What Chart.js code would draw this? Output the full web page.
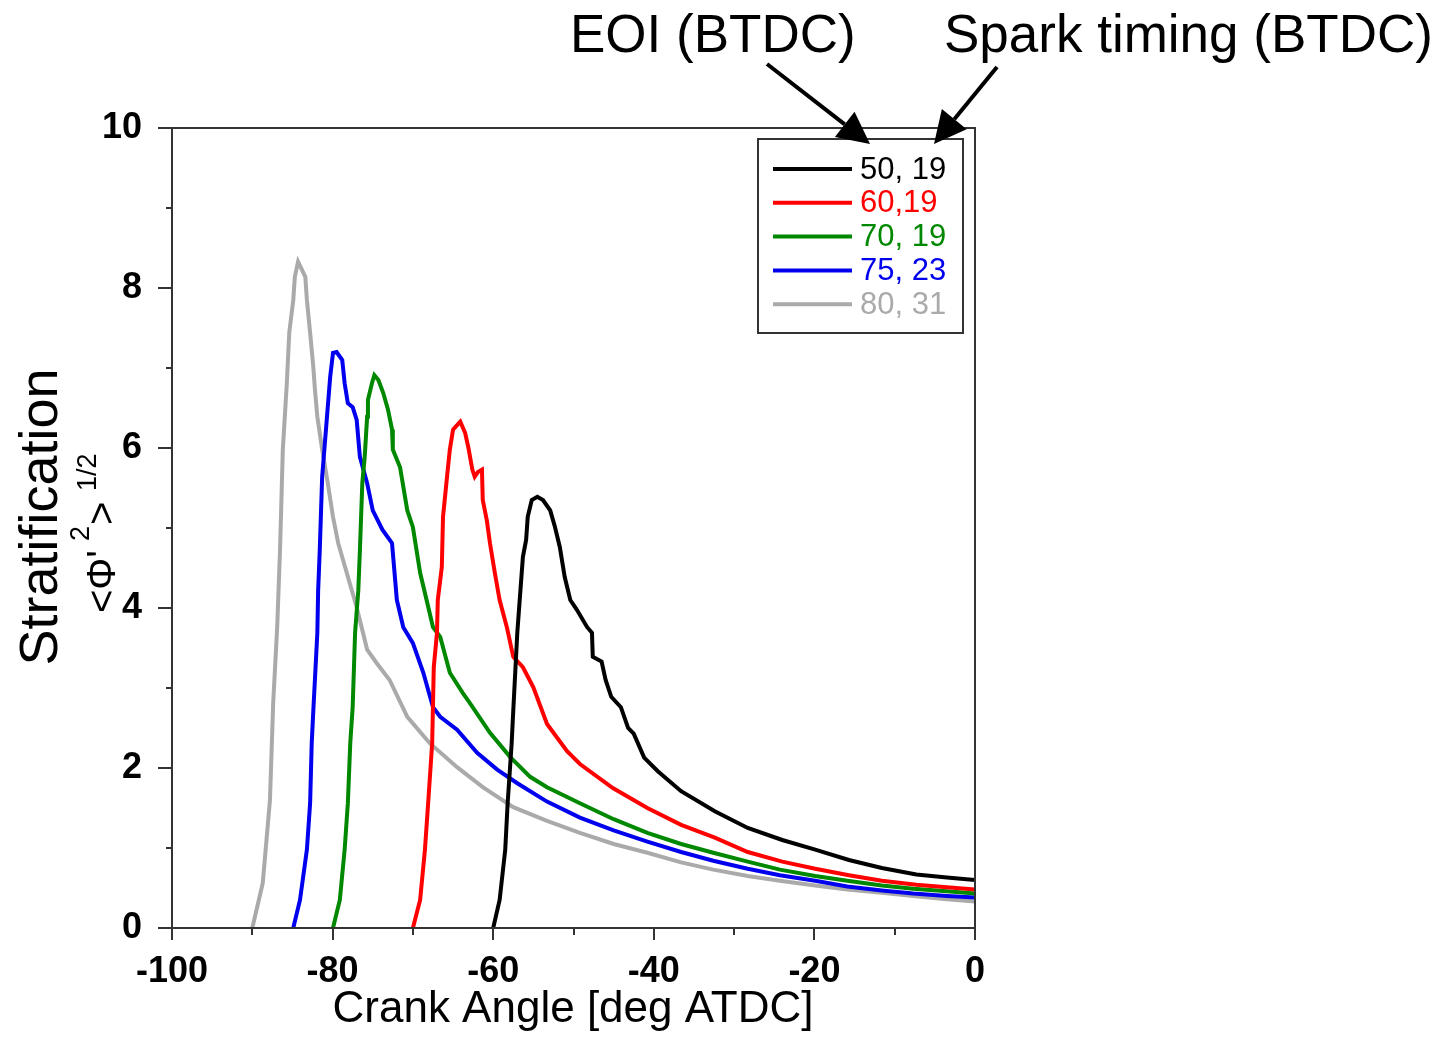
<!DOCTYPE html>
<html>
<head>
<meta charset="utf-8">
<script src="https://cdn.jsdelivr.net/npm/chart.js"></script>
<style>
  body { margin: 0; background: #fff; }
  #wrap { width: 1451px; height: 1037px; position: relative; }
</style>
</head>
<body>
<div id="wrap"><canvas id="strat"></canvas></div>
<script>
// Stratification vs crank angle
const seriesLabels = ['50, 19', '60,19', '70, 19', '75, 23', '80, 31'];
const seriesColors = ['#000000', '#ff0000', '#008800', '#0000ee', '#aaaaaa'];

const xTickValues = [-100, -80, -60, -40, -20, 0];
const xTickLabels = ['-100', '-80', '-60', '-40', '-20', '0'];
const yTickValues = [0, 2, 4, 6, 8, 10];
const yTickLabels = ['0', '2', '4', '6', '8', '10'];

const ca50 = [-60.0,-59.2,-58.5,-58.2,-57.7,-57.5,-57.0,-56.7,-56.3,-55.9,-55.7,-55.2,-54.5,-53.8,-52.9,-52.3,-51.7,-51.1,-50.4,-49.6,-48.3,-47.7,-47.6,-46.5,-46.0,-45.3,-44.1,-43.2,-42.5,-41.2,-39.5,-36.6,-32.4,-28.3,-24.0,-19.9,-15.7,-11.6,-7.3,-3.5,0];
const st50 = [0,0.35,0.98,1.56,2.31,2.72,3.69,4.1,4.64,4.85,5.14,5.35,5.39,5.35,5.22,5.01,4.76,4.39,4.1,3.98,3.76,3.69,3.39,3.33,3.1,2.89,2.76,2.5,2.43,2.13,1.96,1.71,1.46,1.25,1.1,0.98,0.85,0.75,0.67,0.63,0.6];

const ca60 = [-70.0,-69.1,-68.5,-68.1,-67.6,-67.4,-67.0,-66.9,-66.4,-66.25,-65.75,-65.4,-65.0,-64.1,-63.5,-63.1,-62.6,-62.3,-61.9,-61.4,-61.3,-60.8,-60.4,-59.8,-59.2,-58.3,-57.5,-56.3,-55.0,-53.3,-50.8,-49.2,-45.1,-40.8,-36.6,-32.4,-28.3,-24.0,-19.9,-15.7,-11.6,-7.3,-3.5,0];
const st60 = [0,0.35,0.98,1.56,2.31,3.26,3.69,4.1,4.51,5.14,5.64,5.98,6.23,6.33,6.19,6.01,5.73,5.64,5.7,5.73,5.35,5.1,4.81,4.44,4.1,3.76,3.39,3.26,3.01,2.55,2.21,2.05,1.75,1.5,1.29,1.13,0.95,0.83,0.74,0.66,0.59,0.54,0.51,0.48];

const ca70 = [-79.95,-79.1,-78.5,-78.1,-77.8,-77.5,-77.2,-76.8,-76.6,-76.3,-76.0,-75.7,-75.6,-75.1,-74.8,-74.3,-73.7,-73.1,-72.6,-72.5,-71.6,-70.7,-70.0,-69.1,-68.2,-67.5,-66.6,-65.4,-63.8,-62.9,-60.4,-57.9,-55.4,-53.3,-49.2,-45.0,-40.8,-36.6,-32.6,-28.3,-24.3,-19.9,-15.9,-11.6,-7.7,-3.5,0];
const st70 = [0,0.35,0.98,1.56,2.31,2.76,3.69,4.22,4.72,5.56,5.89,6.39,6.6,6.81,6.91,6.85,6.69,6.48,6.23,5.98,5.76,5.22,5.01,4.44,4.06,3.76,3.64,3.19,2.94,2.81,2.44,2.14,1.89,1.76,1.56,1.36,1.19,1.05,0.94,0.83,0.73,0.65,0.59,0.53,0.49,0.46,0.43];

const ca75 = [-84.9,-84.06,-83.2,-82.8,-82.6,-82.4,-81.9,-81.8,-81.6,-81.3,-80.7,-80.3,-79.95,-79.5,-78.8,-78.5,-78.1,-77.5,-77.0,-76.6,-75.7,-75.0,-73.8,-72.6,-72.0,-71.2,-70.0,-68.7,-67.5,-66.6,-64.5,-62.0,-59.5,-57.0,-53.3,-49.2,-45.0,-40.8,-36.6,-32.6,-28.3,-24.3,-19.9,-15.9,-11.6,-7.7,-3.5,0];
const st75 = [0,0.35,0.98,1.56,2.31,2.72,3.69,4.22,4.72,5.64,6.39,6.89,7.19,7.2,7.1,6.81,6.56,6.51,6.35,5.89,5.56,5.22,4.98,4.81,4.1,3.76,3.56,3.19,2.76,2.64,2.48,2.19,1.98,1.81,1.58,1.38,1.22,1.08,0.95,0.84,0.74,0.66,0.59,0.52,0.47,0.43,0.4,0.38];

const ca80 = [-90.0,-88.7,-87.8,-87.4,-86.9,-86.55,-86.2,-85.7,-85.4,-84.9,-84.7,-84.3,-83.4,-83.2,-82.8,-82.4,-82.2,-81.9,-81.3,-80.6,-79.95,-79.3,-77.0,-75.7,-74.5,-72.9,-70.7,-67.9,-64.5,-61.3,-57.5,-53.3,-49.2,-45.0,-40.8,-36.6,-32.6,-28.3,-24.3,-19.9,-15.9,-11.6,-7.7,-3.5,0];
const st80 = [0,0.56,1.6,2.81,3.76,4.72,5.98,6.81,7.44,7.85,8.14,8.33,8.14,7.85,7.44,7.01,6.73,6.39,5.98,5.56,5.14,4.81,4.01,3.48,3.31,3.1,2.64,2.31,2.01,1.76,1.51,1.34,1.19,1.05,0.94,0.82,0.73,0.65,0.59,0.53,0.48,0.44,0.4,0.36,0.33];

const xs = [ca50, ca60, ca70, ca75, ca80];
const ys = [st50, st60, st70, st75, st80];

const FONT = "'Liberation Sans', Arial, sans-serif";

const datasets = seriesLabels.map((lab, i) => ({
  label: lab,
  data: xs[i].map((x, k) => ({ x: x, y: ys[i][k] })),
  borderColor: seriesColors[i],
  borderWidth: 4,
  pointRadius: 0,
  tension: 0,
  fill: false
}));

function arrow(ctx, x1, y1, x2, y2) {
  const a = Math.atan2(y2 - y1, x2 - x1);
  const hl = 32, hw = 16;
  const bx = x2 - hl * Math.cos(a), by = y2 - hl * Math.sin(a);
  ctx.beginPath();
  ctx.moveTo(x1, y1);
  ctx.lineTo(bx, by);
  ctx.lineWidth = 4;
  ctx.strokeStyle = '#000';
  ctx.stroke();
  ctx.beginPath();
  ctx.moveTo(x2, y2);
  ctx.lineTo(bx + hw * Math.sin(a), by - hw * Math.cos(a));
  ctx.lineTo(bx - hw * Math.sin(a), by + hw * Math.cos(a));
  ctx.closePath();
  ctx.fillStyle = '#000';
  ctx.fill();
}

// frame, minor ticks, legend box, labels and arrows
const decor = {
  id: 'decor',
  afterDraw(chart) {
    const ctx = chart.ctx;
    const a = chart.chartArea;
    const sx = chart.scales.x, sy = chart.scales.y;
    ctx.save();
    ctx.strokeStyle = '#333';
    ctx.lineWidth = 2;
    ctx.strokeRect(a.left, a.top, a.right - a.left, a.bottom - a.top);
    ctx.beginPath();
    for (let v = -100; v <= 0; v += 10) {
      const p = Math.round(sx.getPixelForValue(v));
      const len = v % 20 === 0 ? 12 : 7;
      ctx.moveTo(p, a.bottom);
      ctx.lineTo(p, a.bottom + len);
    }
    for (let v = 0; v <= 10; v += 1) {
      const p = Math.round(sy.getPixelForValue(v));
      const len = v % 2 === 0 ? 14 : 6;
      ctx.moveTo(a.left, p);
      ctx.lineTo(a.left - len, p);
    }
    ctx.stroke();

    // legend
    ctx.strokeStyle = '#333';
    ctx.lineWidth = 2;
    ctx.strokeRect(758, 139, 205, 194);
    ctx.font = '31px ' + FONT;
    ctx.textBaseline = 'middle';
    chart.data.datasets.forEach((ds, i) => {
      const y = 169 + i * 33.8;
      ctx.beginPath();
      ctx.moveTo(773, y);
      ctx.lineTo(852, y);
      ctx.strokeStyle = ds.borderColor;
      ctx.lineWidth = 4;
      ctx.stroke();
      ctx.fillStyle = ds.borderColor;
      ctx.textAlign = 'left';
      ctx.fillText(ds.label, 860, y + 1);
    });

    // axis titles
    ctx.fillStyle = '#000';
    ctx.textBaseline = 'alphabetic';
    ctx.textAlign = 'center';
    ctx.font = '44px ' + FONT;
    ctx.fillText('Crank Angle [deg ATDC]', 573, 1022);

    ctx.save();
    ctx.translate(57, 517);
    ctx.rotate(-Math.PI / 2);
    ctx.font = '54px ' + FONT;
    ctx.fillText('Stratification', 0, 0);
    ctx.restore();

    ctx.save();
    ctx.translate(115, 613);
    ctx.rotate(-Math.PI / 2);
    ctx.textAlign = 'left';
    ctx.font = '40px ' + FONT;
    ctx.fillText('<Φ\'', 0, 0);
    ctx.font = '27px ' + FONT;
    ctx.fillText('2', 72, -26);
    ctx.font = '40px ' + FONT;
    ctx.fillText('>', 88, 0);
    ctx.font = '27px ' + FONT;
    ctx.fillText('1/2', 122, -19);
    ctx.restore();

    // annotations
    ctx.font = '53px ' + FONT;
    ctx.textAlign = 'left';
    ctx.fillText('EOI (BTDC)', 570, 52);
    ctx.fillText('Spark timing (BTDC)', 944, 52);
    arrow(ctx, 767, 64, 870, 144);
    arrow(ctx, 997, 67, 934, 144);
    ctx.restore();
  }
};

new Chart(document.getElementById('strat'), {
  type: 'line',
  data: { datasets: datasets },
  options: {
    responsive: true,
    maintainAspectRatio: false,
    animation: false,
    layout: { padding: { top: 128, right: 476, left: 0, bottom: 0 } },
    plugins: { legend: { display: false }, tooltip: { enabled: false } },
    scales: {
      x: {
        type: 'linear', min: -100, max: 0,
        grid: { display: false }, border: { display: false },
        afterFit: s => { s.height = 109; },
        afterBuildTicks: s => { s.ticks = xTickValues.map(v => ({ value: v })); },
        ticks: {
          padding: 14, maxRotation: 0, color: '#000',
          font: { family: FONT, size: 36, weight: 'bold' },
          callback: v => xTickLabels[xTickValues.indexOf(v)]
        }
      },
      y: {
        min: 0, max: 10,
        grid: { display: false }, border: { display: false },
        afterFit: s => { s.width = 172; },
        afterBuildTicks: s => { s.ticks = yTickValues.map(v => ({ value: v })); },
        ticks: {
          padding: 22, color: '#000',
          font: { family: FONT, size: 36, weight: 'bold' },
          callback: v => yTickLabels[yTickValues.indexOf(v)]
        }
      }
    }
  },
  plugins: [decor]
});
</script>
</body>
</html>
